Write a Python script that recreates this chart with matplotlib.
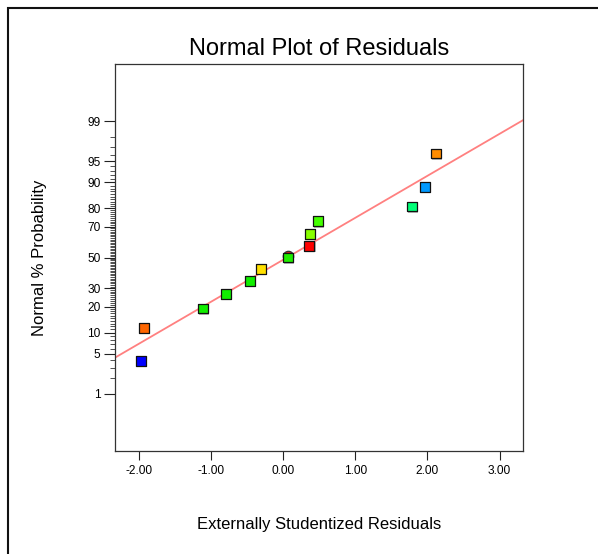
import numpy as np
import matplotlib
matplotlib.use('Agg')
import matplotlib.pyplot as plt
import matplotlib.transforms as mtransforms
from matplotlib.patches import Rectangle
from matplotlib.ticker import FixedLocator, NullFormatter
from statistics import NormalDist

plt.rcParams['font.family'] = ['Liberation Sans', 'DejaVu Sans']

# residuals and their normal % probability
resid = [-1.974, -1.936, -1.118, -0.791, -0.466, -0.313, 0.069,
         0.361, 0.374, 0.477, 1.785, 1.969, 2.122]
prob = [3.85, 11.5, 19.2, 26.9, 34.6, 42.3, 50.0,
        57.7, 65.4, 73.1, 80.8, 88.5, 96.2]
colors = ['#0000FF', '#FF6600', '#11EE00', '#11EE00', '#11EE00', '#FFE000',
          '#22EE00', '#FF0000', '#88FF00', '#44FF00', '#00FF77', '#0099FF',
          '#FF8C00']

# point hidden behind the centre square
extra_x = [0.069]
extra_p = [51.3]

# reference line end points
line_x = [-2.334, 3.325]
line_p = [4.38, 99.04]

xticks = [-2, -1, 0, 1, 2, 3]
yticks = [1, 5, 10, 20, 30, 50, 70, 80, 90, 95, 99]
yminor = [v for v in range(2, 99) if v not in yticks]

nd = NormalDist()


def fwd(p):
    p = np.clip(np.asarray(p, float), 1e-4, 100 - 1e-4)
    return np.vectorize(lambda v: nd.inv_cdf(v / 100.0), otypes=[float])(p)


def inv(z):
    z = np.asarray(z, float)
    return np.vectorize(lambda v: 100.0 * nd.cdf(v), otypes=[float])(z)


fig = plt.figure(figsize=(5.98, 5.54), dpi=100)
ax = fig.add_axes([115 / 598, 103 / 554, 408 / 598, 387 / 554])
ax.set_yscale('function', functions=(fwd, inv))
ax.set_xlim(-2.334, 3.325)
ax.set_ylim(100 * nd.cdf(-3.3), 100 * nd.cdf(3.3))

ax.plot(line_x, line_p, color='#FF8080', lw=1.3, zorder=2)

# soft grey shadow behind the squares
shadow = ax.transData + mtransforms.ScaledTranslation(0.012, -0.012, fig.dpi_scale_trans)
ax.scatter(resid, prob, s=56, marker='s', color='#B8B8B8', linewidths=0,
           transform=shadow, zorder=3)
ax.scatter(extra_x, extra_p, s=56, marker='o', color='#DD2020',
           edgecolors='#333333', linewidths=0.9, zorder=3.5)
ax.scatter(resid, prob, s=50, marker='s', c=colors, edgecolors='#111111',
           linewidths=0.9, zorder=4)

ax.set_xticks(xticks)
ax.set_xticklabels(['%.2f' % v for v in xticks])
ax.yaxis.set_major_locator(FixedLocator(yticks))
ax.set_yticklabels([str(v) for v in yticks])
ax.yaxis.set_minor_locator(FixedLocator(yminor))
ax.yaxis.set_minor_formatter(NullFormatter())
ax.xaxis.set_minor_locator(FixedLocator([]))

ax.tick_params(axis='y', which='major', length=8, width=0.8, labelsize=8.6, pad=2.5, color='#222222')
ax.tick_params(axis='y', which='minor', length=3.8, width=0.6, color='#333333')
ax.tick_params(axis='x', which='major', length=6.3, width=0.8, labelsize=8.6, pad=4, color='#222222')
for sp in ax.spines.values():
    sp.set_color('#333333')
    sp.set_linewidth(0.9)

ax.set_title('Normal Plot of Residuals', fontsize=17, pad=6.5)
ax.set_xlabel('Externally Studentized Residuals', fontsize=12)
ax.set_ylabel('Normal % Probability', fontsize=12)
ax.xaxis.set_label_coords(0.5, -0.17)
ax.yaxis.set_label_coords(-0.167, 0.5)

# outer frame, its right and bottom edges run off the picture
fig.patches.append(Rectangle((8 / 598, -10 / 554), 600 / 598, 556 / 554,
                             transform=fig.transFigure, fill=False,
                             edgecolor='#111111', lw=1.5))

fig.savefig('out.png', dpi=100)
